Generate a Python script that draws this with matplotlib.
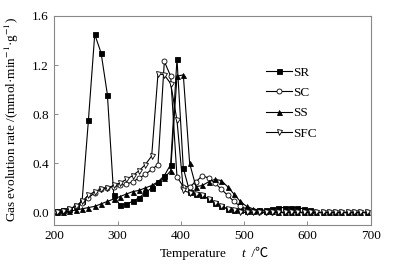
import matplotlib
matplotlib.use("Agg")
import matplotlib.pyplot as plt

# -------------------------
# Data
# -------------------------
temp = [204, 214, 224, 234, 244, 254, 264, 274, 284, 294,
        304, 314, 324, 334, 344, 354, 364, 374, 384, 394,
        404, 414, 424, 434, 444, 454, 464, 474, 484, 494,
        504, 514, 524, 534, 544, 554, 564, 574, 584, 594,
        604, 614, 624, 634, 644, 654, 664, 674, 684, 694]

sr = [0.01, 0.02, 0.03, 0.05, 0.09, 0.75, 1.45, 1.30, 0.96, 0.14,
      0.06, 0.07, 0.09, 0.12, 0.16, 0.20, 0.25, 0.30, 0.39, 1.25,
      0.36, 0.17, 0.15, 0.14, 0.11, 0.08, 0.05, 0.03, 0.02, 0.02,
      0.01, 0.01, 0.02, 0.02, 0.03, 0.04, 0.04, 0.04, 0.04, 0.03,
      0.02]

sc = [0.00, 0.01, 0.03, 0.05, 0.08, 0.12, 0.16, 0.19, 0.20, 0.21,
      0.22, 0.23, 0.25, 0.28, 0.31, 0.35, 0.39, 1.23, 1.11, 0.29,
      0.21, 0.21, 0.25, 0.30, 0.28, 0.24, 0.19, 0.14, 0.09, 0.05,
      0.03, 0.01, 0.00, 0.00, 0.00, 0.00, 0.00, 0.00, 0.00, 0.00,
      0.00, 0.00, 0.00, 0.00, 0.00, 0.00, 0.00, 0.00, 0.00, 0.00]

ss = [0.00, 0.00, 0.01, 0.02, 0.03, 0.04, 0.05, 0.07, 0.09, 0.11,
      0.13, 0.15, 0.17, 0.18, 0.20, 0.22, 0.25, 0.28, 0.34, 1.11,
      1.12, 0.40, 0.21, 0.22, 0.25, 0.27, 0.26, 0.21, 0.15, 0.09,
      0.05, 0.03, 0.02, 0.01, 0.01, 0.00, 0.00, 0.00, 0.00, 0.00,
      0.00, 0.00, 0.00, 0.00, 0.00, 0.00, 0.00, 0.00, 0.00, 0.00]

sfc = [0.00, 0.01, 0.03, 0.05, 0.09, 0.14, 0.17, 0.19, 0.20, 0.22,
       0.24, 0.27, 0.30, 0.34, 0.39, 0.46, 1.13, 1.12, 1.05, 0.75,
       0.18, 0.16, 0.15, 0.14, 0.11, 0.08, 0.05, 0.03, 0.02, 0.00,
       0.00, 0.00, 0.00, 0.00, 0.00, 0.00, 0.00, 0.00, 0.00, 0.00,
       0.00, 0.00, 0.00, 0.00, 0.00, 0.00, 0.00, 0.00, 0.00, 0.00]

x_ticks = [200, 300, 400, 500, 600, 700]
y_ticks = [0.0, 0.4, 0.8, 1.2, 1.6]

# -------------------------
# Plot
# -------------------------
plt.rcParams["font.family"] = ["Liberation Serif", "Noto Sans CJK SC", "DejaVu Serif"]
plt.rcParams["font.size"] = 9.5
plt.rcParams["mathtext.fontset"] = "stix"

fig = plt.figure(figsize=(3.93, 2.66), dpi=100)
ax = fig.add_axes([0.138, 0.155, 0.805, 0.785])

line_kw = dict(color="black", lw=0.8, ms=3.6, mew=0.6)
ax.plot(temp[:len(sr)], sr, marker="s", mfc="black", label="SR", **line_kw)
ax.plot(temp, sc, marker="o", mfc="white", label="SC", **line_kw)
ax.plot(temp, ss, marker="^", mfc="black", label="SS", **line_kw)
ax.plot(temp, sfc, marker="v", mfc="white", label="SFC", **line_kw)

ax.set_xlim(200, 700)
ax.set_ylim(-0.1, 1.6)
ax.set_xticks(x_ticks)
ax.set_yticks(y_ticks)
ax.set_yticklabels([f"{v:.1f}" for v in y_ticks])
ax.tick_params(direction="in", length=3, width=0.6, color="#777777", pad=4)

for sp in ax.spines.values():
    sp.set_color("#888888")
    sp.set_linewidth(0.8)

ax.set_ylabel("Gas evolution rate /(mmol\u00b7min$^{-1}$\u00b7g$^{-1}$)",
              fontsize=9.5)
ax.yaxis.set_label_coords(-0.105, 0.505)

# x label: "Temperature" plus italic t and unit, set apart as in the reference
fig.text(0.491, 0.045, "Temperature", ha="center", va="center", fontsize=9.5)
fig.text(0.615, 0.045, "t", ha="left", va="center", fontsize=9.5, style="italic")
fig.text(0.630, 0.045, " /\u2103", ha="left", va="center", fontsize=9.5)

ax.legend(loc="upper left", bbox_to_anchor=(0.648, 0.79), frameon=False,
          borderpad=0, handlelength=2.0, handletextpad=0.1, labelspacing=0.62,
          fontsize=9.5)

fig.savefig("out.png", dpi=100)
